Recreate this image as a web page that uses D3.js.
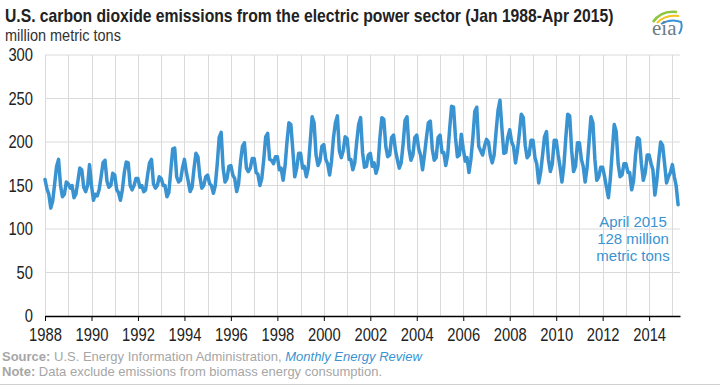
<!DOCTYPE html>
<html>
<head>
<meta charset="utf-8">
<script src="https://cdn.jsdelivr.net/npm/d3@7"></script>
<style>
  body { margin:0; background:#fff; }
  svg { display:block; }
  .narrow { font-family:"Liberation Sans Narrow","Arial Narrow","Liberation Sans",Arial,sans-serif; }
  .plain { font-family:"Liberation Sans",Arial,sans-serif; }
</style>
</head>
<body>
<svg class="chart" width="720" height="390"></svg>
<script>
// monthly values, million metric tons, starting Jan 1988
var startYear = 1988;
var emissions = [
  157,146,140,124,132,152,172,180,150,137,140,154, // 1988
  152,147,150,136,140,155,170,168,148,143,150,174, // 1989
  150,133,140,138,145,160,176,179,155,148,150,164, // 1990
  162,145,142,133,145,165,177,176,150,145,150,158, // 1991
  158,148,150,143,145,162,176,180,152,147,150,160, // 1992
  158,150,150,137,142,168,192,193,160,154,156,170, // 1993
  180,165,155,143,148,170,187,183,160,147,150,160, // 1994
  162,152,150,141,150,175,205,211,170,154,158,172, // 1995
  173,162,158,143,152,178,195,199,170,166,170,181, // 1996
  181,165,163,150,158,180,206,210,180,179,175,183, // 1997
  183,168,170,156,172,200,222,220,190,160,170,187, // 1998
  187,170,172,160,170,200,229,222,185,173,178,195, // 1999
  197,180,175,162,178,205,222,230,190,182,190,206, // 2000
  204,180,180,168,176,200,220,228,188,171,172,185, // 2001
  187,172,176,164,172,205,228,226,195,183,185,205, // 2002
  208,190,180,170,176,198,225,229,192,179,185,205, // 2003
  208,192,185,168,185,205,222,224,192,179,182,205, // 2004
  208,188,188,173,185,215,241,240,205,183,185,209, // 2005
  192,178,182,165,180,205,235,240,195,190,185,195, // 2006
  203,200,185,176,185,212,236,248,215,187,188,205, // 2007
  214,200,195,176,190,210,232,228,196,182,185,202, // 2008
  202,182,175,153,165,185,206,212,180,166,175,202, // 2009
  202,185,172,154,172,205,232,230,190,166,172,199, // 2010
  199,180,172,154,170,200,229,222,180,156,160,171, // 2011
  171,160,148,136,158,190,220,212,175,160,162,175, // 2012
  175,165,165,145,155,185,205,203,175,156,165,185, // 2013
  185,175,168,139,155,180,200,196,175,153,160,165, // 2014
  174,160,150,128                                  // 2015
];

var xTickYears = [1988,1990,1992,1994,1996,1998,2000,2002,2004,2006,2008,2010,2012,2014];
var yTickValues = [0,50,100,150,200,250,300];
var noteLines = ['April 2015','128 million','metric tons'];

var svg = d3.select('.chart');

var margins = { top:55, bottom:74, left:45, right:40 };
var width = 720 - margins.left - margins.right;
var height = 390 - margins.top - margins.bottom;

var data = emissions.map(function(v,i){
  return { date:new Date(startYear, i, 1), value:v };
});

var x = d3.scaleTime()
          .domain([new Date(startYear,0,1), new Date(2015,4,1)])
          .range([margins.left, margins.left+width]);
var y = d3.scaleLinear().domain([0,300]).range([margins.top+height, margins.top]);

// title (no condensed font here, so the regular one is scaled to the reference width)
var tg = svg.append('g').attr('transform','translate(5,22)');
var title = tg.append('text').classed('narrow',true)
   .style('font-size','18px').style('font-weight','bold').attr('fill','#222')
   .text('U.S. carbon dioxide emissions  from the electric power sector (Jan 1988-Apr  2015)');
title.attr('transform','scale('+(609/title.node().getComputedTextLength())+',1)');

var sg = svg.append('g').attr('transform','translate(5,41)');
var sub = sg.append('text').classed('narrow',true)
   .style('font-size','16px').attr('fill','#333')
   .text('million metric tons');
sub.attr('transform','scale('+(116/sub.node().getComputedTextLength())+',1)');

// eia logo
var logo = svg.append('g').attr('transform','translate(651,8)');
logo.append('path').attr('d','M2,14 Q10,2 26,4').attr('fill','none').attr('stroke','#8dc63f').attr('stroke-width',2.5);
logo.append('path').attr('d','M6,15 Q14,6 28,8').attr('fill','none').attr('stroke','#f7c21b').attr('stroke-width',2);
logo.append('path').attr('d','M10,16 Q20,10 30,14 Q32,20 28,26').attr('fill','none').attr('stroke','#3a93d1').attr('stroke-width',2);
logo.append('text').attr('x',1).attr('y',27)
    .style('font-family','"Liberation Serif","DejaVu Serif",serif').style('font-size','21px')
    .attr('fill','#6d7b86').text('eia');

// grid
var grid = svg.append('g').classed('grid',true);
grid.selectAll('.hgrid').data(yTickValues.filter(function(d){return d>0;})).enter().append('line')
    .attr('x1',margins.left).attr('x2',margins.left+width)
    .attr('y1',function(d){return y(d);}).attr('y2',function(d){return y(d);})
    .attr('stroke','#dadada').attr('stroke-width',1);
grid.selectAll('.vgrid').data(d3.range(startYear,2016)).enter().append('line')
    .attr('x1',function(d){return Math.round(x(new Date(d,0,1)))+0.5;})
    .attr('x2',function(d){return Math.round(x(new Date(d,0,1)))+0.5;})
    .attr('y1',y(300)).attr('y2',y(0))
    .attr('stroke','#dadada').attr('stroke-width',1);

// y labels
svg.selectAll('.ylab').data(yTickValues).enter().append('g')
   .attr('transform',function(d){return 'translate(33,'+(y(d)+6)+')';})
   .append('text').classed('narrow',true)
   .attr('text-anchor','end').attr('transform','scale(0.82,1)')
   .style('font-size','18px').attr('fill','#222')
   .text(function(d){return d;});

// x axis
var xAxis = d3.axisBottom(x)
              .tickValues(xTickYears.map(function(d){return new Date(d,0,1);}))
              .tickFormat(d3.timeFormat('%Y'))
              .tickSize(5).tickSizeOuter(0);
var xg = svg.append('g').attr('transform','translate(0,'+y(0)+')').call(xAxis);
xg.select('.domain').attr('stroke','#000').attr('stroke-width',1.5);
xg.selectAll('.tick line').attr('stroke','#000');
xg.selectAll('.tick text')
  .style('font-size','18px').attr('fill','#222').attr('dy','0.95em')
  .attr('transform','scale(0.82,1)')
  .style('font-family','"Liberation Sans Narrow","Arial Narrow","Liberation Sans",Arial,sans-serif');

// line
var linegen = d3.line().x(function(d){return x(d.date);}).y(function(d){return y(d.value);});
svg.append('path').datum(data)
   .attr('d',linegen)
   .attr('fill','none').attr('stroke','#3a93d1').attr('stroke-width',3.5)
   .attr('stroke-linejoin','round').attr('stroke-linecap','round');

// annotation
svg.selectAll('.note').data(noteLines).enter().append('text').classed('plain',true)
   .attr('x',633).attr('y',function(d,i){return 227+i*17;})
   .attr('text-anchor','middle').style('font-size','15px').attr('fill','#3a93d1')
   .text(function(d){return d;});

// footer
var src = svg.append('text').classed('plain',true).attr('x',2).attr('y',361)
   .style('font-size','13px').attr('fill','#a6a6a6');
src.append('tspan').style('font-weight','bold').text('Source:');
src.append('tspan').text(' U.S. Energy Information Administration, ');
src.append('tspan').style('font-style','italic').attr('fill','#3a93d1').text('Monthly Energy Review');
var note = svg.append('text').classed('plain',true).attr('x',2).attr('y',376)
   .style('font-size','13px').attr('fill','#a6a6a6');
note.append('tspan').style('font-weight','bold').text('Note:');
note.append('tspan').text(' Data exclude emissions from biomass energy consumption.');
svg.append('line').attr('x1',0).attr('x2',720).attr('y1',384.5).attr('y2',384.5)
   .attr('stroke','#d0d0d0').attr('stroke-width',1);
</script>
</body>
</html>
